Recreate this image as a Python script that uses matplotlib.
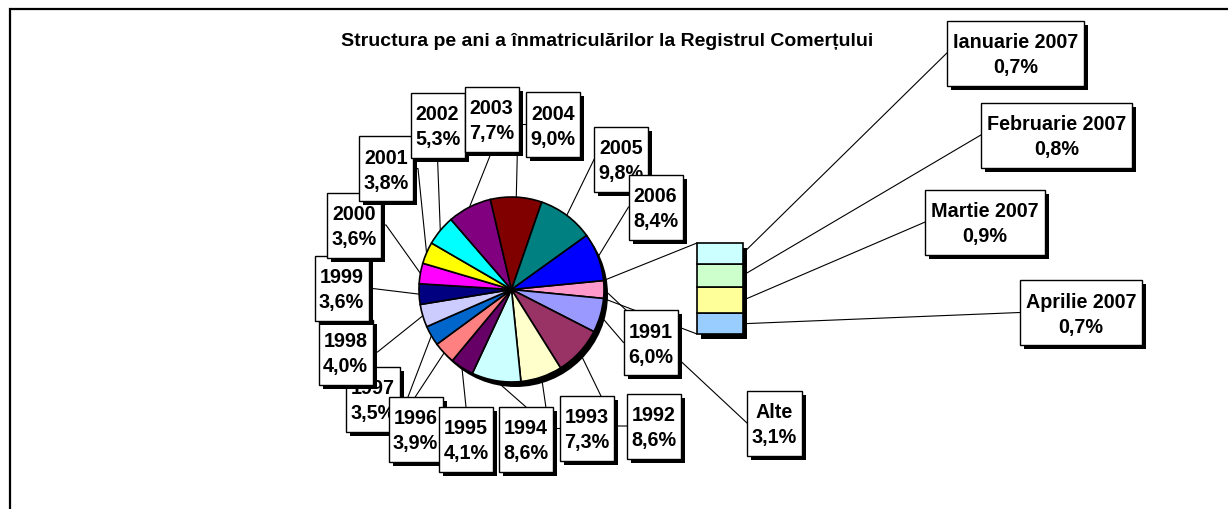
import numpy as np
import matplotlib.pyplot as plt
from matplotlib.patches import Rectangle, Circle

# Dimensiuni figura (pixeli, dpi 100)
W, H = 1228, 510
DPI = 100

title = "Structura pe ani a înmatriculărilor la Registrul Comerțului"

# Date: ponderea anilor in total inmatriculari
years = ['1991', '1992', '1993', '1994', '1995', '1996', '1997', '1998',
         '1999', '2000', '2001', '2002', '2003', '2004', '2005', '2006']
year_share = [6.0, 8.6, 7.3, 8.6, 4.1, 3.9, 3.5, 4.0,
              3.6, 3.6, 3.8, 5.3, 7.7, 9.0, 9.8, 8.4]
year_colors = ['#9999FF', '#993366', '#FFFFCC', '#CCFFFF', '#660066', '#FF8080',
               '#0066CC', '#CCCCFF', '#000080', '#FF00FF', '#FFFF00', '#00FFFF',
               '#800080', '#800000', '#008080', '#0000FF']

other_label = 'Alte'
other_share = 3.1
other_color = '#FF99CC'

# Detaliere "Alte" pe luni 2007
months = ['Ianuarie 2007', 'Februarie 2007', 'Martie 2007', 'Aprilie 2007']
month_share = [0.7, 0.8, 0.9, 0.7]
month_colors = ['#CCFFFF', '#CCFFCC', '#FFFF99', '#99CCFF']

# Layout (coordonate imagine, y in jos)
PIE_C = (511.5, 290.5)
PIE_R = 92.5
BAR_X, BAR_W, BAR_TOP, BAR_H = 697, 46, 244, 91
FS = 14.2
FONT = 'Liberation Sans'

# centru eticheta, latura de ancorare, lungime cot
label_layout = {
    '1991': (650.5, 343.5, 'l', 0),
    '1992': (653.5, 427, 'l', 11),
    '1993': (587, 429.5, 'l', 11),
    '1994': (526, 440.5, 't', 0),
    '1995': (466, 440.5, 't', 0),
    '1996': (415.5, 430, 't', 0),
    '1997': (373, 400.5, 'r', 7),
    '1998': (345.5, 353, 'r', 5),
    '1999': (341.5, 289, 'r', 0),
    '2000': (354, 226, 'r', 5),
    '2001': (386, 169.5, 'r', 5),
    '2002': (437.5, 126, 'b', 0),
    '2003': (491.5, 120.5, 'b', 0),
    '2004': (553, 125.5, 'l', 8),
    '2005': (621, 160.5, 'l', 0),
    '2006': (655.5, 208, 'l', 0),
    'Alte': (774.5, 424, 'l', 0),
}
month_layout = [(1015.5, 54), (1056.5, 136), (985, 223), (1081, 313.5)]
draw_order = ['1997', '1996', '1995', '1994', '1993', '1992', '1991', '1998',
              '1999', '2000', '2001', '2002', '2003', '2004', '2005', '2006', 'Alte']


def Y(y):
    return H - y


def pct(v):
    return f"{v:.1f}".replace('.', ',') + '%'


def anchor_point(cx, cy, w, h, side, elbow):
    """Punctul de prindere al liniei de legatura pe cutia etichetei"""
    if side == 'l':
        return (cx - w / 2, cy), (cx - w / 2 - elbow, cy)
    if side == 'r':
        return (cx + w / 2, cy), (cx + w / 2 + elbow, cy)
    if side == 't':
        return (cx, cy - h / 2), (cx, cy - h / 2)
    return (cx, cy + h / 2), (cx, cy + h / 2)


def draw_label(ax, renderer, cx, cy, line1, line2, width, z):
    t1 = ax.text(cx, Y(cy - 6), line1, ha='center', va='baseline', fontsize=FS,
                 fontweight='bold', family=FONT, zorder=z + 1)
    t2 = ax.text(cx, Y(cy + 19), line2, ha='center', va='baseline', fontsize=FS,
                 fontweight='bold', family=FONT, zorder=z + 1)
    if width is None:
        tw = max(t1.get_window_extent(renderer).width, t2.get_window_extent(renderer).width)
        width = tw + 12
    h = 65
    ax.add_patch(Rectangle((cx - width / 2 + 4, Y(cy + h / 2 + 4)), width, h,
                           facecolor='black', edgecolor='none', zorder=z))
    ax.add_patch(Rectangle((cx - width / 2, Y(cy + h / 2)), width, h,
                           facecolor='white', edgecolor='black', linewidth=1.0, zorder=z + 0.5))
    return width, h


def main():
    fig = plt.figure(figsize=(W / DPI, H / DPI), dpi=DPI)
    ax = fig.add_axes([0, 0, 1, 1])
    renderer = fig.canvas.get_renderer()

    # Placinta: "Alte" centrata pe orizontala, apoi anii in sens orar
    vals = [other_share] + year_share
    cols = [other_color] + year_colors
    start = 360 * other_share / sum(vals) / 2
    wedges, _ = ax.pie(vals, colors=cols, startangle=start, counterclock=False,
                       center=(PIE_C[0], Y(PIE_C[1])), radius=PIE_R, frame=True,
                       wedgeprops=dict(edgecolor='black', linewidth=1.2, zorder=2))
    ax.add_patch(Circle((PIE_C[0] + 4, Y(PIE_C[1] + 5)), PIE_R, facecolor='black',
                        edgecolor='none', zorder=1.8))

    def arc_pt(w, ang=None):
        if ang is None:
            ang = (w.theta1 + w.theta2) / 2
        a = np.deg2rad(ang)
        return PIE_C[0] + PIE_R * np.cos(a), PIE_C[1] - PIE_R * np.sin(a)

    # Bara cu lunile 2007
    scale = BAR_H / sum(month_share)
    bottom = Y(BAR_TOP + BAR_H)
    ax.bar(BAR_X + BAR_W / 2 + 4, BAR_H, width=BAR_W, bottom=bottom - 5,
           color='black', zorder=1.8)
    seg_mid = []
    b = bottom
    for v, c in zip(month_share[::-1], month_colors[::-1]):
        ax.bar(BAR_X + BAR_W / 2, v * scale, width=BAR_W, bottom=b, color=c,
               edgecolor='black', linewidth=1.2, zorder=2)
        seg_mid.append(Y(b + v * scale / 2))
        b += v * scale
    seg_mid = seg_mid[::-1]

    # Linii de legatura placinta - bara
    w_other = wedges[0]
    p_top = arc_pt(w_other, w_other.theta2)
    p_bot = arc_pt(w_other, w_other.theta1)
    ax.plot([p_top[0], BAR_X], [Y(p_top[1]), Y(BAR_TOP)], color='black', lw=0.8, zorder=1.5)
    ax.plot([p_bot[0], BAR_X], [Y(p_bot[1]), Y(BAR_TOP + BAR_H)], color='black', lw=0.8, zorder=1.5)

    # Etichete ani + Alte
    names = [other_label] + years
    shares = [other_share] + year_share
    wmap = dict(zip(names, wedges))
    smap = dict(zip(names, shares))
    z = 3
    for name in draw_order:
        cx, cy, side, elbow = label_layout[name]
        bw = 55 if name == other_label else 54
        bw, bh = draw_label(ax, renderer, cx, cy, name, pct(smap[name]), bw, z)
        z += 2
        (ax_, ay_), (ex, ey) = anchor_point(cx, cy, bw, bh, side, elbow)
        px, py = arc_pt(wmap[name])
        ax.plot([px, ex, ax_], [Y(py), Y(ey), Y(ay_)], color='black', lw=0.8, zorder=1.5)

    # Etichete luni
    for (cx, cy), m, v, ym in zip(month_layout, months, month_share, seg_mid):
        bw, bh = draw_label(ax, renderer, cx, cy, m, pct(v), None, z)
        z += 2
        ax.plot([BAR_X + BAR_W, cx - bw / 2], [Y(ym), Y(cy)], color='black', lw=0.8, zorder=1.5)

    ax.text(607.5, Y(42), title, ha='center', va='center', fontsize=14,
            fontweight='bold', family=FONT)

    # Chenar
    ax.add_patch(Rectangle((10, Y(530)), 1240, 520, facecolor='none',
                           edgecolor='black', linewidth=1.6, zorder=0.5))

    ax.set_xlim(0, W)
    ax.set_ylim(0, H)
    ax.set_aspect('auto')
    ax.set_axis_off()
    fig.savefig('out.png', dpi=DPI)


if __name__ == "__main__":
    main()
